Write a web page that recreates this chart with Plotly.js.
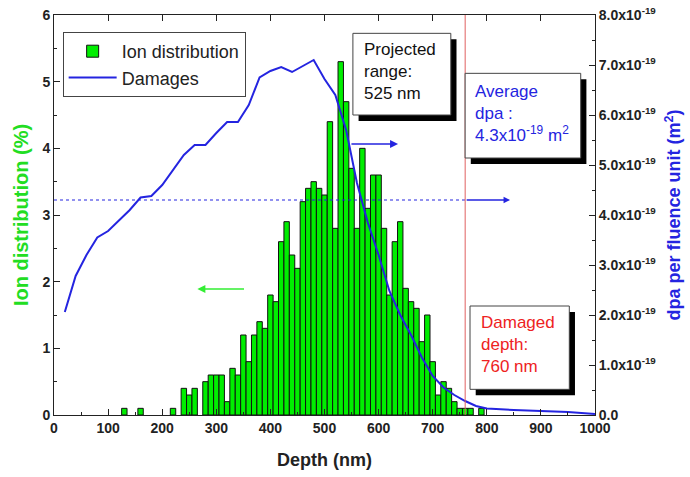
<!DOCTYPE html>
<html>
<head>
<meta charset="utf-8">
<script src="https://cdn.plot.ly/plotly-3.0.1.min.js"></script>
<style>html,body{margin:0;padding:0;background:#fff;}#chart{width:690px;height:477px;}</style>
</head>
<body>
<div id="chart"></div>
<script>
// Ion distribution histogram (10 nm bins), percent
const ionDepth = [130,160,220,240,250,260,280,290,300,310,320,330,340,350,360,370,380,390,400,410,420,430,440,450,460,470,480,490,500,510,520,530,540,550,560,570,580,590,600,610,620,630,640,650,660,670,680,690,700,710,720,730,740,750,760,770,790];
const ionPct   = [0.1,0.1,0.1,0.4,0.3,0.4,0.5,0.6,0.6,0.6,0.2,0.7,0.6,1.2,0.8,1.2,1.4,1.3,1.8,1.7,2.6,2.9,2.4,2.2,3.2,3.4,3.5,3.4,3.3,4.4,2.8,5.3,4.7,3.7,2.8,4.0,3.1,3.6,3.6,2.8,1.8,2.6,2.9,1.9,1.7,1.6,1.1,1.5,0.8,0.3,0.5,0.4,0.2,0.1,0.1,0.1,0.1];

// Damages (dpa per fluence unit), mantissa in units of 1e-19 m^2
const dmgDepth = [20,40,60,80,100,120,140,160,180,200,220,240,260,280,300,320,340,360,380,400,420,440,460,480,500,520,540,560,580,600,620,640,660,680,700,720,740,760,780,800,850,900,950,1000];
const dmgE19   = [2.06,2.78,3.2,3.55,3.68,3.9,4.1,4.35,4.38,4.6,4.9,5.2,5.4,5.4,5.64,5.86,5.86,6.2,6.75,6.88,6.96,6.86,6.98,7.1,6.72,6.4,5.7,4.64,3.85,3.2,2.48,2.0,1.6,1.15,0.78,0.55,0.4,0.28,0.18,0.13,0.1,0.08,0.06,0.02];

const xTicks = [0,100,200,300,400,500,600,700,800,900,1000];
const yLeftTicks = [0,1,2,3,4,5,6];
const yRightTicks = [0,1,2,3,4,5,6,7,8];
const yRightLabels = ['0.0','1.0x10<sup>-19</sup>','2.0x10<sup>-19</sup>','3.0x10<sup>-19</sup>','4.0x10<sup>-19</sup>','5.0x10<sup>-19</sup>','6.0x10<sup>-19</sup>','7.0x10<sup>-19</sup>','8.0x10<sup>-19</sup>'];

const avgDpaE19 = 4.3;
const damagedDepth = 760;

const FONT = 'Liberation Sans, Arial, sans-serif';
const BLUE = '#2424e0';
const GREEN = '#22dd22';
const RED = '#ee2222';

const traces = [
  {type:'bar', x: ionDepth, y: ionPct, width: 10, name: 'Ion distribution',
   marker:{color:'#00ee00', line:{color:'#111', width:1}}, yaxis:'y', xaxis:'x'},
  {type:'scatter', mode:'lines', x: dmgDepth, y: dmgE19, name:'Damages',
   line:{color:BLUE, width:2}, yaxis:'y2', xaxis:'x'},
  {type:'scatter', mode:'lines', x:[0,1000], y:[0,0], xaxis:'x2', yaxis:'y', showlegend:false,
   line:{width:0}, hoverinfo:'skip'}
];

function box(x0,x1,y0,y1){ return {type:'rect', xref:'x', yref:'y', x0:x0, x1:x1, y0:y0, y1:y1, layer:'above'}; }
const shapes = [];
[[552.5,733.5,4.5,5.725],[759.9,973.6,3.855,5.125],[769,952.5,0.385,1.635]].forEach(b=>{
  const sx = 10.5, sy = 0.09;
  shapes.push(Object.assign(box(b[0]+sx,b[1]+sx,b[2]-sy,b[3]-sy),{fillcolor:'#000', line:{width:0}}));
  shapes.push(Object.assign(box(b[0],b[1],b[2],b[3]),{fillcolor:'#fff', line:{color:'#444', width:1}}));
});
shapes.unshift({type:'line', xref:'x', yref:'y', x0:damagedDepth, x1:damagedDepth, y0:0, y1:6, line:{color:'#e06060', width:1}, layer:'above'});
shapes.unshift({type:'line', xref:'x', yref:'y2', x0:0, x1:damagedDepth, y0:avgDpaE19, y1:avgDpaE19, line:{color:BLUE, width:1.2, dash:'dot'}, layer:'above'});

const annotations = [
  {xref:'x', yref:'y', x:569, y:5.66, xanchor:'left', yanchor:'top', align:'left', showarrow:false,
   text:'Projected<br>range:<br>525 nm', font:{family:FONT, size:17, color:'#111'}},
  {xref:'x', yref:'y', x:775, y:5.03, xanchor:'left', yanchor:'top', align:'left', showarrow:false,
   text:'Average<br>dpa :<br>4.3x10<sup>-19</sup> m<sup>2</sup>', font:{family:FONT, size:17, color:BLUE}},
  {xref:'x', yref:'y', x:786, y:1.56, xanchor:'left', yanchor:'top', align:'left', showarrow:false,
   text:'Damaged<br>depth:<br>760 nm', font:{family:FONT, size:17, color:RED}},
  {xref:'x', yref:'y2', axref:'x', ayref:'y2', x:843, y:avgDpaE19, ax:damagedDepth, ay:avgDpaE19, text:'', showarrow:true,
   arrowhead:2, arrowsize:1, arrowwidth:1.3, arrowcolor:BLUE, standoff:0},
  {xref:'x', yref:'y2', axref:'x', ayref:'y2', x:636, y:5.42, ax:547, ay:5.42, text:'', showarrow:true,
   arrowhead:2, arrowsize:1, arrowwidth:1.6, arrowcolor:BLUE, standoff:0},
  {xref:'x', yref:'y', axref:'x', ayref:'y', x:265, y:1.89, ax:354, ay:1.89, text:'', showarrow:true,
   arrowhead:2, arrowsize:1, arrowwidth:1.6, arrowcolor:'#33ee33', standoff:0}
];

const tickFont = {family:FONT, size:14, color:'#222', weight:'bold'};
const titleSize = 18;
const layout = {
  width:690, height:477,
  margin:{l:53.5, r:95, t:15, b:62, pad:0},
  paper_bgcolor:'#fff', plot_bgcolor:'#fff',
  showlegend:true,
  bargap:0,
  legend:{x:0.016, y:0.9575, xanchor:'left', yanchor:'top', bgcolor:'#fff', bordercolor:'#444', borderwidth:1,
          font:{family:FONT, size:18, color:'#222'}, tracegroupgap:0, itemwidth:48},
  xaxis:{range:[0,1000], tickvals:xTicks, ticks:'inside', ticklen:6, tickwidth:1, tickcolor:'#222',
         showline:true, linecolor:'#222', linewidth:1, mirror:true, showgrid:false, zeroline:false,
         minor:{dtick:50, ticks:'inside', ticklen:3, tickcolor:'#222', showgrid:false},
         tickfont:tickFont,
         title:{text:'Depth (nm)', font:{family:FONT, size:titleSize, color:'#222', weight:'bold'}, standoff:18}},
  xaxis2:{range:[0,1000], overlaying:'x', side:'top', tickvals:xTicks, ticks:'inside', ticklen:6, tickwidth:1,
          tickcolor:'#222', showticklabels:false, showline:false, showgrid:false, zeroline:false},
  yaxis:{range:[0,6], tickvals:yLeftTicks, ticks:'inside', ticklen:6, tickwidth:1, tickcolor:'#222',
         showline:true, linecolor:'#222', linewidth:1, showgrid:false, zeroline:false,
         minor:{dtick:0.5, ticks:'inside', ticklen:3, tickcolor:'#222', showgrid:false},
         tickfont:tickFont,
         title:{text:'Ion distribution (%)', font:{family:FONT, size:20, color:GREEN, weight:'bold'}, standoff:8}},
  yaxis2:{range:[0,8], overlaying:'y', side:'right', tickvals:yRightTicks, ticktext:yRightLabels,
          ticks:'inside', ticklen:6, tickwidth:1, tickcolor:'#222',
          showline:true, linecolor:'#222', linewidth:1, showgrid:false, zeroline:false,
          minor:{dtick:0.5, ticks:'inside', ticklen:3, tickcolor:'#222', showgrid:false},
          tickfont:tickFont,
          title:{text:'dpa per fluence unit (m<sup>2</sup>)', font:{family:FONT, size:titleSize, color:BLUE, weight:'bold'}, standoff:12}},
  shapes:shapes,
  annotations:annotations
};

Plotly.newPlot('chart', traces, layout, {displayModeBar:false, staticPlot:true});
</script>
</body>
</html>
